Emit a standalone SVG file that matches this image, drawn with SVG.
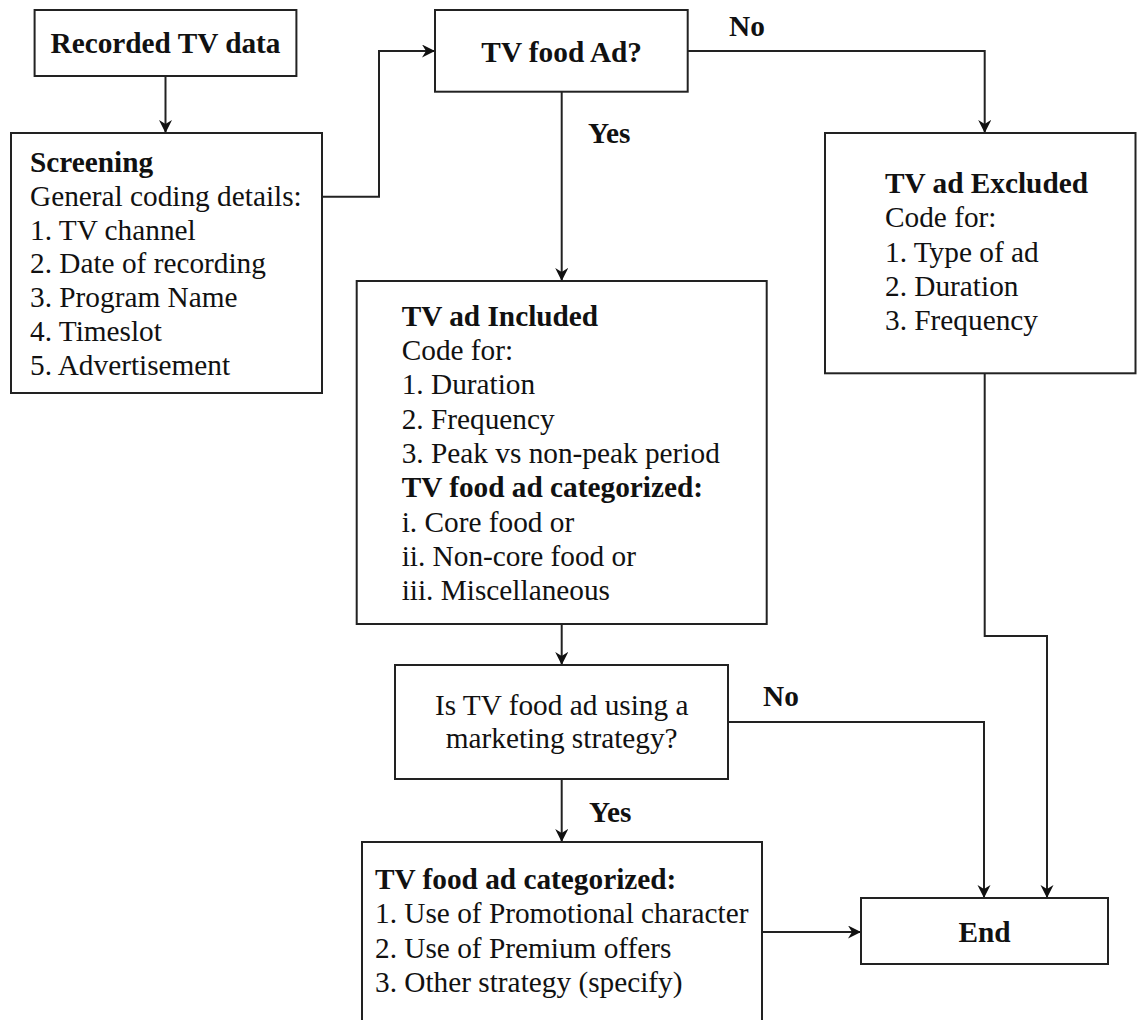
<svg xmlns="http://www.w3.org/2000/svg" width="1137" height="1020" viewBox="0 0 1137 1020">
<style>
.box{fill:#fff;stroke:#222;stroke-width:2}
.t{font-family:"Liberation Serif","Times New Roman",serif;font-size:29.3px;fill:#111}
.b{font-weight:bold}
.c{text-anchor:middle}
.conn{fill:none;stroke:#222;stroke-width:2}
</style>
<defs>
<marker id="arr" markerUnits="userSpaceOnUse" markerWidth="16" markerHeight="14" refX="13" refY="6.5" orient="auto">
<path d="M0,0 L13,6.5 L0,13 L4,6.5 Z" fill="#111"/>
</marker>
</defs>
<rect width="1137" height="1020" fill="#fff"/>
<g id="connectors">
<path class="conn" d="M165.5,76 V133" marker-end="url(#arr)"/>
<path class="conn" d="M322,196.7 H379 V51 H435" marker-end="url(#arr)"/>
<path class="conn" d="M687.7,51 H984.7 V133" marker-end="url(#arr)"/>
<path class="conn" d="M561.7,92 V281" marker-end="url(#arr)"/>
<path class="conn" d="M561.7,624 V665" marker-end="url(#arr)"/>
<path class="conn" d="M561.7,779 V842" marker-end="url(#arr)"/>
<path class="conn" d="M728,722 H984 V898" marker-end="url(#arr)"/>
<path class="conn" d="M984.7,373 V636 H1047 V898" marker-end="url(#arr)"/>
<path class="conn" d="M762,932 H861" marker-end="url(#arr)"/>
<text class="t b" x="729" y="36">No</text>
<text class="t b" x="588" y="143">Yes</text>
<text class="t b" x="763" y="706">No</text>
<text class="t b" x="589" y="822">Yes</text>
</g>
<g id="recorded">
<rect class="box" x="34.6" y="10" width="261.8" height="66"/>
<text class="t b c" x="165.5" y="53">Recorded TV data</text>
</g>
<g id="screening">
<rect class="box" x="11" y="133" width="311" height="260"/>
<text class="t" x="30" y="172"><tspan class="b">Screening</tspan><tspan x="30" dy="33.8">General coding details:</tspan><tspan x="30" dy="33.8">1. TV channel</tspan><tspan x="30" dy="33.8">2. Date of recording</tspan><tspan x="30" dy="33.8">3. Program Name</tspan><tspan x="30" dy="33.8">4. Timeslot</tspan><tspan x="30" dy="33.8">5. Advertisement</tspan></text>
</g>
<g id="tvfoodad">
<rect class="box" x="435" y="10" width="252.7" height="81.7"/>
<text class="t b c" x="561.7" y="62">TV food Ad?</text>
</g>
<g id="excluded">
<rect class="box" x="825" y="133" width="310.5" height="240.3"/>
<text class="t" x="885" y="193"><tspan class="b">TV ad Excluded</tspan><tspan x="885" dy="34.3">Code for:</tspan><tspan x="885" dy="34.3">1. Type of ad</tspan><tspan x="885" dy="34.3">2. Duration</tspan><tspan x="885" dy="34.3">3. Frequency</tspan></text>
</g>
<g id="included">
<rect class="box" x="356.7" y="281" width="410" height="343"/>
<text class="t" x="401.7" y="325.5"><tspan class="b">TV ad Included</tspan><tspan x="401.7" dy="34.35">Code for:</tspan><tspan x="401.7" dy="34.35">1. Duration</tspan><tspan x="401.7" dy="34.35">2. Frequency</tspan><tspan x="401.7" dy="34.35">3. Peak vs non-peak period</tspan><tspan x="401.7" dy="34.35" class="b">TV food ad categorized:</tspan><tspan x="401.7" dy="34.35">i. Core food or</tspan><tspan x="401.7" dy="34.35">ii. Non-core food or</tspan><tspan x="401.7" dy="34.35">iii. Miscellaneous</tspan></text>
</g>
<g id="marketing">
<rect class="box" x="395" y="665" width="333" height="114"/>
<text class="t c" x="561.7" y="715">Is TV food ad using a<tspan x="561.7" dy="33">marketing strategy?</tspan></text>
</g>
<g id="categorized">
<rect class="box" x="362" y="842" width="400" height="200"/>
<text class="t" x="375" y="889"><tspan class="b">TV food ad categorized:</tspan><tspan x="375" dy="34.3">1. Use of Promotional character</tspan><tspan x="375" dy="34.3">2. Use of Premium offers</tspan><tspan x="375" dy="34.3">3. Other strategy (specify)</tspan></text>
</g>
<g id="end">
<rect class="box" x="861" y="898" width="247" height="66"/>
<text class="t b c" x="984.5" y="942">End</text>
</g>
</svg>
